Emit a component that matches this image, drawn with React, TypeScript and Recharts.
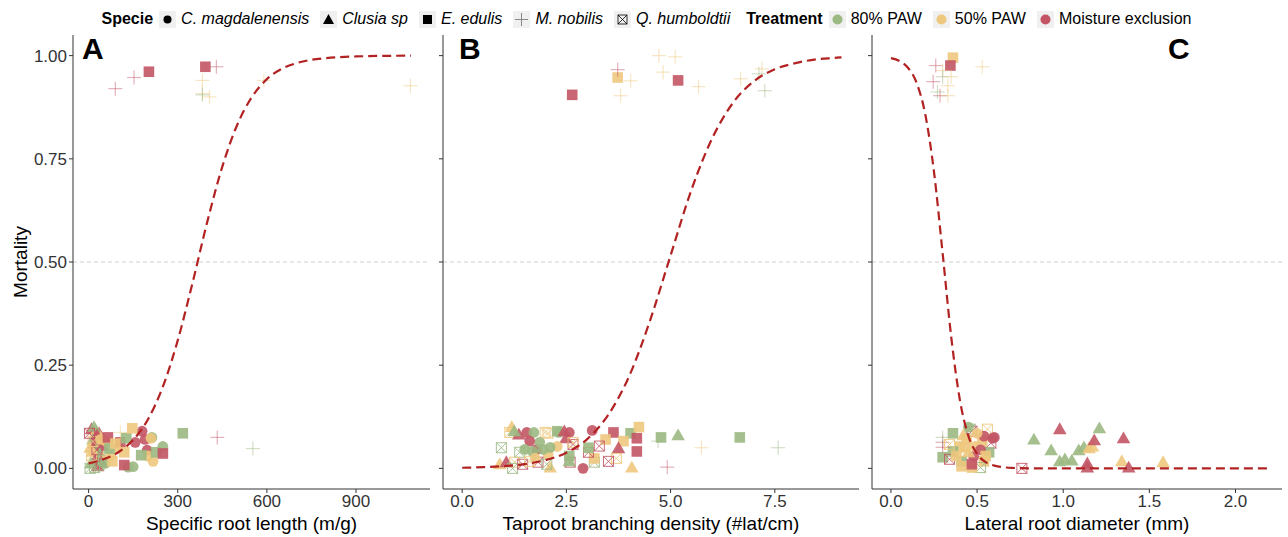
import React from "react";
import {
  ReferenceLine,
  Scatter,
  ScatterChart,
  XAxis,
  YAxis,
} from "recharts";

// species: Cm C. magdalenensis, Cs Clusia sp, Ee E. edulis, Mn M. nobilis, Qh Q. humboldtii
// treatment: 80 = 80% PAW, 50 = 50% PAW, ME = moisture exclusion
type Pt = [number, number, string, string];

const species = [
  { code: "Cm", label: "C. magdalenensis" },
  { code: "Cs", label: "Clusia sp" },
  { code: "Ee", label: "E. edulis" },
  { code: "Mn", label: "M. nobilis" },
  { code: "Qh", label: "Q. humboldtii" },
];
const treatments = [
  { code: "80", label: "80% PAW" },
  { code: "50", label: "50% PAW" },
  { code: "ME", label: "Moisture exclusion" },
];
const treatmentColors: Record<string, string> = {
  "80": "#9bb982",
  "50": "#eec87d",
  ME: "#c35564",
};

const yTicks = [0, 0.25, 0.5, 0.75, 1];
const srlTicks = [0, 300, 600, 900];
const tbdTicks = [0, 2.5, 5, 7.5];
const lrdTicks = [0, 0.5, 1, 1.5, 2];

// Specific root length (m/g)
const srlPoints: Pt[] = [
  [10, 0.095, "Cs", "ME"], [25, 0.09, "Cs", "50"], [35, 0.085, "Cs", "ME"], [15, 0.07, "Cs", "80"],
  [40, 0.075, "Cs", "50"], [20, 0.06, "Cs", "ME"], [30, 0.05, "Cs", "80"], [45, 0.055, "Cs", "ME"],
  [12, 0.04, "Cs", "50"], [38, 0.035, "Cs", "80"], [22, 0.02, "Cs", "ME"], [48, 0.025, "Cs", "50"],
  [8, 0.012, "Cs", "80"], [30, 0.005, "Cs", "ME"], [18, 0.1, "Cs", "80"], [42, 0.015, "Cs", "ME"],
  [28, 0.08, "Cs", "ME"], [5, 0.05, "Cs", "50"],
  [5, 0.0, "Qh", "80"], [20, 0.002, "Qh", "80"], [35, 0.008, "Qh", "80"], [10, 0.03, "Qh", "50"],
  [28, 0.045, "Qh", "ME"], [50, 0.02, "Qh", "80"], [15, 0.065, "Qh", "50"], [3, 0.085, "Qh", "ME"],
  [60, 0.065, "Cm", "50"], [75, 0.03, "Cm", "50"], [55, 0.012, "Cm", "80"], [157, 0.063, "Cm", "ME"],
  [180, 0.09, "Cm", "ME"], [190, 0.07, "Cm", "ME"], [197, 0.044, "Cm", "ME"], [213, 0.075, "Cm", "80"],
  [210, 0.073, "Cm", "50"], [250, 0.053, "Cm", "80"], [217, 0.017, "Cm", "50"], [200, 0.03, "Cm", "50"],
  [133, 0.003, "Cm", "80"], [150, 0.004, "Cm", "80"], [100, 0.05, "Cm", "50"], [40, 0.07, "Cm", "50"],
  [65, 0.075, "Ee", "ME"], [70, 0.048, "Ee", "80"], [80, 0.017, "Ee", "50"], [107, 0.063, "Ee", "ME"],
  [127, 0.073, "Ee", "80"], [147, 0.097, "Ee", "50"], [120, 0.039, "Ee", "50"], [120, 0.008, "Ee", "ME"],
  [177, 0.032, "Ee", "80"], [227, 0.039, "Ee", "80"], [250, 0.036, "Ee", "ME"], [317, 0.085, "Ee", "80"],
  [90, 0.06, "Ee", "50"], [203, 0.961, "Ee", "ME"], [393, 0.973, "Ee", "ME"],
  [433, 0.075, "Mn", "ME"], [553, 0.048, "Mn", "80"], [107, 0.087, "Mn", "50"], [90, 0.92, "Mn", "ME"],
  [153, 0.947, "Mn", "ME"], [430, 0.973, "Mn", "ME"], [383, 0.94, "Mn", "50"], [383, 0.908, "Mn", "50"],
  [407, 0.9, "Mn", "50"], [383, 0.905, "Mn", "80"], [590, 0.94, "Mn", "50"], [1083, 0.927, "Mn", "50"],
];
const srlCurveX = [0, 50, 100, 150, 200, 250, 300, 350, 400, 450, 500, 550, 600, 650, 700, 800, 900, 1000, 1085];
const srlCurveY = [0.012, 0.022, 0.039, 0.069, 0.119, 0.198, 0.31, 0.45, 0.599, 0.731, 0.832, 0.9, 0.943, 0.968, 0.982, 0.994, 0.998, 0.9995, 1.0];

// Taproot branching density (#lat/cm)
const tbdPoints: Pt[] = [
  [1.19, 0.1, "Cs", "50"], [1.14, 0.087, "Qh", "50"], [1.36, 0.082, "Cs", "ME"], [1.55, 0.087, "Cm", "ME"],
  [1.72, 0.087, "Cm", "80"], [1.99, 0.087, "Qh", "50"], [2.06, 0.085, "Qh", "50"], [2.28, 0.09, "Ee", "80"],
  [2.32, 0.087, "Cm", "80"], [2.57, 0.087, "Cm", "ME"], [2.49, 0.073, "Cs", "ME"], [3.12, 0.092, "Cm", "ME"],
  [3.63, 0.087, "Ee", "ME"], [4.04, 0.085, "Ee", "80"], [4.24, 0.1, "Ee", "50"], [3.87, 0.066, "Ee", "50"],
  [4.19, 0.073, "Ee", "ME"], [3.44, 0.07, "Ee", "50"], [4.19, 0.041, "Ee", "ME"], [3.75, 0.049, "Cs", "ME"],
  [4.07, 0.002, "Cs", "50"], [4.7, 0.066, "Mn", "80"], [4.77, 0.075, "Ee", "80"], [5.18, 0.08, "Cs", "80"],
  [4.92, 0.003, "Mn", "ME"], [5.74, 0.05, "Mn", "50"], [6.66, 0.075, "Ee", "80"], [7.58, 0.05, "Mn", "80"],
  [3.29, 0.054, "Qh", "ME"], [3.7, 0.024, "Qh", "50"], [3.51, 0.017, "Qh", "ME"], [3.17, 0.015, "Qh", "80"],
  [3.17, 0.024, "Ee", "50"], [2.9, 0.0, "Cm", "ME"], [2.59, 0.015, "Qh", "ME"], [3.03, 0.039, "Qh", "ME"],
  [3.03, 0.05, "Ee", "80"], [2.57, 0.03, "Ee", "80"], [2.57, 0.017, "Cs", "80"], [2.28, 0.053, "Cm", "50"],
  [0.94, 0.05, "Qh", "80"], [1.38, 0.039, "Qh", "80"], [0.9, 0.01, "Cs", "50"], [1.06, 0.015, "Cs", "ME"],
  [1.26, 0.015, "Qh", "50"], [1.21, 0.0, "Qh", "80"], [1.45, 0.01, "Qh", "ME"], [1.79, 0.046, "Cm", "ME"],
  [1.86, 0.063, "Cm", "80"], [1.62, 0.066, "Cm", "ME"], [2.06, 0.034, "Cm", "50"], [1.94, 0.046, "Cm", "80"],
  [2.11, 0.051, "Cm", "80"], [1.82, 0.015, "Qh", "ME"], [1.62, 0.017, "Qh", "50"], [2.11, 0.002, "Cs", "50"],
  [2.03, 0.01, "Qh", "80"], [2.66, 0.058, "Qh", "ME"], [2.66, 0.063, "Qh", "50"], [1.5, 0.046, "Cm", "80"],
  [1.69, 0.041, "Cm", "80"], [1.25, 0.09, "Cs", "80"], [2.45, 0.09, "Cs", "ME"], [1.75, 0.025, "Cm", "50"],
  [2.64, 0.905, "Ee", "ME"], [3.73, 0.947, "Ee", "50"], [3.73, 0.966, "Mn", "ME"], [4.04, 0.939, "Mn", "50"],
  [3.8, 0.903, "Mn", "50"], [4.72, 1.0, "Mn", "50"], [5.11, 0.997, "Mn", "50"], [4.82, 0.96, "Mn", "50"],
  [5.18, 0.94, "Ee", "ME"], [5.67, 0.925, "Mn", "50"], [6.68, 0.944, "Mn", "50"], [7.12, 0.956, "Mn", "80"],
  [7.19, 0.968, "Mn", "50"], [7.26, 0.915, "Mn", "80"],
];
const tbdCurveX = [0, 0.5, 1, 1.5, 2, 2.5, 3, 3.5, 4, 4.5, 5, 5.5, 6, 6.5, 7, 7.5, 8, 8.5, 9, 9.1];
const tbdCurveY = [0.0015, 0.0028, 0.0054, 0.0104, 0.02, 0.038, 0.071, 0.129, 0.222, 0.356, 0.516, 0.675, 0.8, 0.886, 0.938, 0.967, 0.982, 0.991, 0.995, 0.996];

// Lateral root diameter (mm)
const lrdPoints: Pt[] = [
  [0.83, 0.07, "Cs", "80"], [0.98, 0.095, "Cs", "ME"], [0.93, 0.044, "Cs", "80"], [0.98, 0.017, "Cs", "80"],
  [1.01, 0.022, "Cs", "80"], [1.05, 0.019, "Cs", "80"], [1.09, 0.044, "Cs", "80"], [1.12, 0.051, "Cs", "80"],
  [1.15, 0.049, "Cs", "50"], [1.17, 0.053, "Cs", "50"], [1.18, 0.068, "Cs", "ME"], [1.21, 0.097, "Cs", "80"],
  [1.14, 0.012, "Cs", "ME"], [1.14, 0.002, "Cs", "ME"], [1.35, 0.073, "Cs", "ME"], [1.34, 0.017, "Cs", "50"],
  [1.38, 0.002, "Cs", "ME"], [1.58, 0.015, "Cs", "50"], [0.76, 0.0, "Qh", "ME"], [0.59, 0.073, "Cm", "ME"],
  [0.36, 0.085, "Ee", "80"], [0.46, 0.095, "Qh", "80"], [0.47, 0.09, "Qh", "ME"], [0.56, 0.095, "Qh", "50"],
  [0.6, 0.075, "Cm", "ME"], [0.58, 0.061, "Qh", "ME"], [0.53, 0.066, "Ee", "50"], [0.54, 0.078, "Cm", "ME"],
  [0.4, 0.053, "Ee", "50"], [0.43, 0.051, "Ee", "50"], [0.36, 0.041, "Ee", "80"], [0.3, 0.051, "Mn", "ME"],
  [0.3, 0.063, "Mn", "ME"], [0.3, 0.075, "Mn", "80"], [0.3, 0.027, "Ee", "80"], [0.34, 0.022, "Qh", "ME"],
  [0.41, 0.017, "Ee", "80"], [0.57, 0.039, "Ee", "80"], [0.54, 0.017, "Ee", "50"], [0.52, 0.002, "Qh", "80"],
  [0.47, 0.002, "Ee", "50"], [0.41, 0.005, "Ee", "50"], [0.48, 0.029, "Cm", "ME"], [0.45, 0.039, "Cs", "50"],
  [0.47, 0.01, "Ee", "ME"], [0.49, 0.053, "Cm", "50"], [0.45, 0.1, "Cm", "80"], [0.34, 0.058, "Qh", "50"],
  [0.44, 0.07, "Ee", "50"], [0.5, 0.085, "Cm", "50"], [0.38, 0.03, "Ee", "50"], [0.52, 0.045, "Cm", "ME"],
  [0.42, 0.08, "Cs", "50"], [0.55, 0.03, "Ee", "50"],
  [0.36, 0.995, "Ee", "50"], [0.345, 0.976, "Ee", "ME"], [0.26, 0.976, "Mn", "ME"], [0.3, 0.964, "Mn", "50"],
  [0.53, 0.973, "Mn", "50"], [0.245, 0.937, "Mn", "ME"], [0.3, 0.949, "Mn", "80"], [0.35, 0.949, "Mn", "50"],
  [0.27, 0.912, "Mn", "80"], [0.285, 0.903, "Mn", "ME"], [0.33, 0.903, "Mn", "50"], [0.33, 0.927, "Mn", "50"],
];
const lrdCurveX = [0, 0.05, 0.1, 0.15, 0.2, 0.25, 0.3, 0.35, 0.4, 0.45, 0.5, 0.55, 0.6, 0.7, 0.8, 1.0, 1.5, 2.0, 2.2];
const lrdCurveY = [0.994, 0.987, 0.97, 0.933, 0.856, 0.718, 0.521, 0.318, 0.166, 0.078, 0.035, 0.0153, 0.0066, 0.0012, 0.0002, 0, 0, 0, 0];

const FONT = '"Liberation Sans", Arial, sans-serif';
const AXIS = "#333333";
const CURVE = "#b22222";

const toRows = (pts: Pt[]) => pts.map(([x, y, sp, tr]) => ({ x, y, sp, tr }));
const toCurve = (xs: number[], ys: number[]) => xs.map((x, i) => ({ x, y: ys[i] }));

function Glyph({ sp, cx, cy, color }: { sp: string; cx: number; cy: number; color: string }) {
  if (sp === "Cm") return <circle cx={cx} cy={cy} r={5.4} fill={color} fillOpacity={0.9} />;
  if (sp === "Cs")
    return (
      <polygon
        points={`${cx},${cy - 6.8} ${cx - 6.8},${cy + 5} ${cx + 6.8},${cy + 5}`}
        fill={color}
        fillOpacity={0.9}
      />
    );
  if (sp === "Ee") return <rect x={cx - 5.3} y={cy - 5.3} width={10.6} height={10.6} fill={color} fillOpacity={0.9} />;
  if (sp === "Mn")
    return (
      <g stroke={color} strokeWidth={1.2} strokeOpacity={0.45}>
        <line x1={cx - 7} y1={cy} x2={cx + 7} y2={cy} />
        <line x1={cx} y1={cy - 7} x2={cx} y2={cy + 7} />
      </g>
    );
  return (
    <g stroke={color} strokeWidth={1} fill="none" strokeOpacity={0.85}>
      <rect x={cx - 5} y={cy - 5} width={10} height={10} />
      <line x1={cx - 5} y1={cy - 5} x2={cx + 5} y2={cy + 5} />
      <line x1={cx - 5} y1={cy + 5} x2={cx + 5} y2={cy - 5} />
    </g>
  );
}

const pointShape = (props: any) => {
  const { cx, cy, payload } = props;
  if (cx == null || cy == null) return <g />;
  return <Glyph sp={payload.sp} cx={cx} cy={cy} color={treatmentColors[payload.tr]} />;
};

type PanelProps = {
  left: number;
  width: number;
  yAxisWidth: number;
  showYLabels: boolean;
  domain: [number, number];
  ticks: number[];
  tickFmt: (v: number) => string;
  title: string;
  points: Pt[];
  curve: { x: number; y: number }[];
};

function Panel(p: PanelProps) {
  return (
    <div style={{ position: "absolute", left: p.left, top: 0 }}>
      <ScatterChart width={p.width} height={537} margin={{ top: 35, right: 6, bottom: 0, left: 0 }}>
        <XAxis
          type="number"
          dataKey="x"
          domain={p.domain}
          ticks={p.ticks}
          allowDataOverflow
          tickFormatter={p.tickFmt}
          height={48}
          tickSize={4}
          stroke={AXIS}
          tick={{ fill: AXIS, fontSize: 17 }}
          label={{ value: p.title, position: "insideBottom", offset: 7, fill: "#000", fontSize: 19 }}
        />
        <YAxis
          type="number"
          dataKey="y"
          domain={[-0.05, 1.05]}
          ticks={yTicks}
          allowDataOverflow
          width={p.yAxisWidth}
          tickSize={4}
          stroke={AXIS}
          tick={{ fill: AXIS, fontSize: 17 }}
          tickFormatter={(v: number) => (p.showYLabels ? v.toFixed(2) : "")}
          label={
            p.showYLabels
              ? { value: "Mortality", angle: -90, position: "insideLeft", offset: 20, fill: "#000", fontSize: 19, style: { textAnchor: "middle" } }
              : undefined
          }
        />
        <ReferenceLine y={0.5} stroke="#cfcfcf" strokeDasharray="4 3" />
        <Scatter data={toRows(p.points)} shape={pointShape} isAnimationActive={false} />
        <Scatter
          data={p.curve}
          line={{ stroke: CURVE, strokeWidth: 2.2, strokeDasharray: "9 5" }}
          lineJointType="monotoneX"
          shape={() => <g />}
          isAnimationActive={false}
        />
      </ScatterChart>
    </div>
  );
}

function KeyBox({ children }: { children: React.ReactNode }) {
  return (
    <svg width={17} height={17} style={{ display: "block" }}>
      <rect width={17} height={17} fill="#f0f0f0" />
      {children}
    </svg>
  );
}

function Legend() {
  const item = { display: "flex", alignItems: "center", marginRight: 11 } as const;
  const txt = { marginLeft: 5 } as const;
  return (
    <div
      style={{
        position: "absolute",
        top: 9,
        left: 8,
        width: 1288,
        height: 20,
        display: "flex",
        justifyContent: "center",
        alignItems: "center",
        fontSize: 16,
        fontFamily: FONT,
        color: "#000",
      }}
    >
      <span style={{ fontWeight: "bold", marginRight: 6 }}>Specie</span>
      {species.map((s) => (
        <span key={s.code} style={item}>
          <KeyBox>
            {s.code === "Mn" ? (
              <g stroke="#888" strokeWidth={1}>
                <line x1={2} y1={8.5} x2={15} y2={8.5} />
                <line x1={8.5} y1={2} x2={8.5} y2={15} />
              </g>
            ) : s.code === "Qh" ? (
              <g stroke="#000" strokeWidth={0.8} fill="none">
                <rect x={4} y={4} width={9} height={9} />
                <line x1={4} y1={4} x2={13} y2={13} />
                <line x1={4} y1={13} x2={13} y2={4} />
              </g>
            ) : s.code === "Cm" ? (
              <circle cx={8.5} cy={8.5} r={4} fill="#000" />
            ) : s.code === "Cs" ? (
              <polygon points="8.5,3 3,13 14,13" fill="#000" />
            ) : (
              <rect x={4} y={4} width={9} height={9} fill="#000" />
            )}
          </KeyBox>
          <span style={{ ...txt, fontStyle: "italic" }}>{s.label}</span>
        </span>
      ))}
      <span style={{ fontWeight: "bold", marginLeft: 5, marginRight: 6 }}>Treatment</span>
      {treatments.map((t) => (
        <span key={t.code} style={item}>
          <KeyBox>
            <circle cx={8.5} cy={8.5} r={5} fill={treatmentColors[t.code]} />
          </KeyBox>
          <span style={txt}>{t.label}</span>
        </span>
      ))}
    </div>
  );
}

export default function App() {
  return (
    <div
      style={{
        position: "absolute",
        left: 0,
        top: 0,
        width: 1288,
        height: 537,
        background: "#fff",
        fontFamily: FONT,
        overflow: "hidden",
      }}
    >
      <Legend />
      <Panel
        left={0}
        width={436}
        yAxisWidth={73}
        showYLabels
        domain={[-52.5, 1149]}
        ticks={srlTicks}
        tickFmt={(v) => String(v)}
        title="Specific root length (m/g)"
        points={srlPoints}
        curve={toCurve(srlCurveX, srlCurveY)}
      />
      <Panel
        left={429}
        width={436}
        yAxisWidth={14}
        showYLabels={false}
        domain={[-0.46, 9.52]}
        ticks={tbdTicks}
        tickFmt={(v) => v.toFixed(1)}
        title="Taproot branching density (#lat/cm)"
        points={tbdPoints}
        curve={toCurve(tbdCurveX, tbdCurveY)}
      />
      <Panel
        left={858}
        width={430}
        yAxisWidth={14}
        showYLabels={false}
        domain={[-0.11, 2.27]}
        ticks={lrdTicks}
        tickFmt={(v) => v.toFixed(1)}
        title="Lateral root diameter (mm)"
        points={lrdPoints}
        curve={toCurve(lrdCurveX, lrdCurveY)}
      />
      <svg
        width={1288}
        height={537}
        style={{ position: "absolute", left: 0, top: 0, pointerEvents: "none" }}
      >
        <g fontFamily={FONT} fontWeight="bold" fontSize={30} fill="#000">
          <text x={82} y={59}>A</text>
          <text x={459} y={59}>B</text>
          <text x={1168} y={59}>C</text>
        </g>
      </svg>
    </div>
  );
}
